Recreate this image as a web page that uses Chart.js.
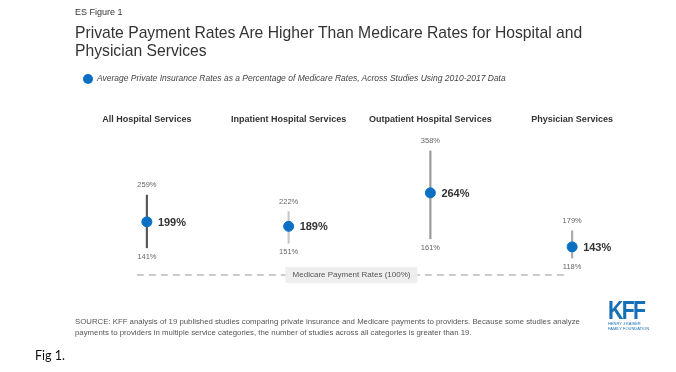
<!DOCTYPE html>
<html>
<head>
<meta charset="utf-8">
<script src="https://cdn.jsdelivr.net/npm/chart.js@4"></script>
<style>
  body { margin: 0; background: #fff; width: 676px; height: 372px; overflow: hidden; position: relative; font-family: "Liberation Sans", Arial, sans-serif; }
  #chart { position: absolute; left: 0; top: 0; }
  .abs { position: absolute; white-space: nowrap; }
  #fig { left: 75px; top: 7px; font-size: 9px; color: #333; }
  #title { left: 75px; top: 24px; font-size: 15.7px; line-height: 18px; color: #333; }
  #legend { left: 83px; top: 73px; font-size: 8.5px; font-style: italic; color: #444; }
  #legend span.dot { display: inline-block; width: 10px; height: 10px; border-radius: 50%; background: #0a70c4; vertical-align: middle; margin-right: 4px; }
  #source { left: 75px; top: 316px; font-size: 7.8px; line-height: 11px; color: #555; }
  #kff { left: 608px; top: 296px; font-size: 25px; font-weight: bold; color: #1570b8; letter-spacing: -2px; transform: scaleX(0.85); transform-origin: left top; }
  #kffsub { left: 608px; top: 321px; font-size: 4px; line-height: 5px; color: #1570b8; }
  #figcap { left: 35px; top: 348px; font-size: 12.5px; font-family: Lato, "Open Sans", sans-serif; color: #111; }
</style>
</head>
<body>
<canvas id="chart" width="676" height="372"></canvas>
<div class="abs" id="fig">ES Figure 1</div>
<div class="abs" id="title">Private Payment Rates Are Higher Than Medicare Rates for Hospital and<br>Physician Services</div>
<div class="abs" id="legend"><span class="dot"></span>Average Private Insurance Rates as a Percentage of Medicare Rates, Across Studies Using 2010-2017 Data</div>
<div class="abs" id="source">SOURCE: KFF analysis of 19 published studies comparing private insurance and Medicare payments to providers. Because some studies analyze<br>payments to providers in multiple service categories, the number of studies across all categories is greater than 19.</div>
<div class="abs" id="kff">KFF</div>
<div class="abs" id="kffsub">HENRY J KAISER<br>FAMILY FOUNDATION</div>
<div class="abs" id="figcap">Fig 1.</div>
<script>
const categories = ["All Hospital Services", "Inpatient Hospital Services", "Outpatient Hospital Services", "Physician Services"];
const averages = [199, 189, 264, 143];
const lows = [141, 151, 161, 118];
const highs = [259, 222, 358, 179];
const medicareRate = 100;
const medicareLabel = "Medicare Payment Rates (100%)";

const lineColors = ["#555", "#c8c8c8", "#999", "#aaa"];

// reference line sits a little under its value in the original figure
const baselineShift = 9;

const labelPlugin = {
  id: "labels",
  beforeDatasetsDraw(chart) {
    const ctx = chart.ctx;
    const x = chart.scales.x;
    const my = chart.scales.y.getPixelForValue(medicareRate) + baselineShift;
    ctx.save();
    ctx.strokeStyle = "#bbb";
    ctx.lineWidth = 1.5;
    ctx.setLineDash([7, 5]);
    ctx.beginPath();
    ctx.moveTo(x.getPixelForValue(0) - 10, my);
    ctx.lineTo(x.getPixelForValue(categories.length - 1) - 4, my);
    ctx.stroke();
    ctx.restore();
  },
  afterDatasetsDraw(chart) {
    const ctx = chart.ctx;
    const x = chart.scales.x;
    const y = chart.scales.y;
    ctx.save();
    ctx.textBaseline = "middle";
    categories.forEach((c, i) => {
      const px = x.getPixelForValue(i);
      ctx.textAlign = "center";
      ctx.font = "bold 9px 'Liberation Sans', Arial";
      ctx.fillStyle = "#333";
      ctx.fillText(c, px, 120);
      ctx.font = "7.5px 'Liberation Sans', Arial";
      ctx.fillStyle = "#666";
      ctx.fillText(highs[i] + "%", px, y.getPixelForValue(highs[i]) - 10);
      ctx.fillText(lows[i] + "%", px, y.getPixelForValue(lows[i]) + 9);
      ctx.font = "bold 11px 'Liberation Sans', Arial";
      ctx.fillStyle = "#333";
      ctx.textAlign = "left";
      ctx.fillText(averages[i] + "%", px + 11, y.getPixelForValue(averages[i]) + 1);
    });
    const my = y.getPixelForValue(medicareRate) + baselineShift;
    const mx = (x.getPixelForValue(1) + x.getPixelForValue(2)) / 2 - 8;
    ctx.fillStyle = "#eeeeee";
    ctx.fillRect(mx - 66, my - 8, 132, 16);
    ctx.textAlign = "center";
    ctx.font = "8px 'Liberation Sans', Arial";
    ctx.fillStyle = "#555";
    ctx.fillText(medicareLabel, mx, my);
    ctx.restore();
  },
};

new Chart(document.getElementById("chart"), {
  data: {
    labels: categories,
    datasets: [
      {
        type: "bar",
        data: lows.map((l, i) => [l, highs[i]]),
        backgroundColor: lineColors,
        barThickness: 1.5,
        order: 2,
      },
      {
        type: "line",
        data: averages,
        showLine: false,
        pointRadius: 5,
        pointBackgroundColor: "#0a70c4",
        pointBorderColor: "#0a70c4",
        order: 1,
      },
    ],
  },
  plugins: [labelPlugin],
  options: {
    responsive: false,
    animation: false,
    layout: { padding: { left: 76, right: 33, top: 100, bottom: 72 } },
    plugins: { legend: { display: false }, tooltip: { enabled: false } },
    scales: {
      x: { display: false, offset: true },
      y: { display: false, min: 24, max: 472 },
    },
  },
});
</script>
</body>
</html>
